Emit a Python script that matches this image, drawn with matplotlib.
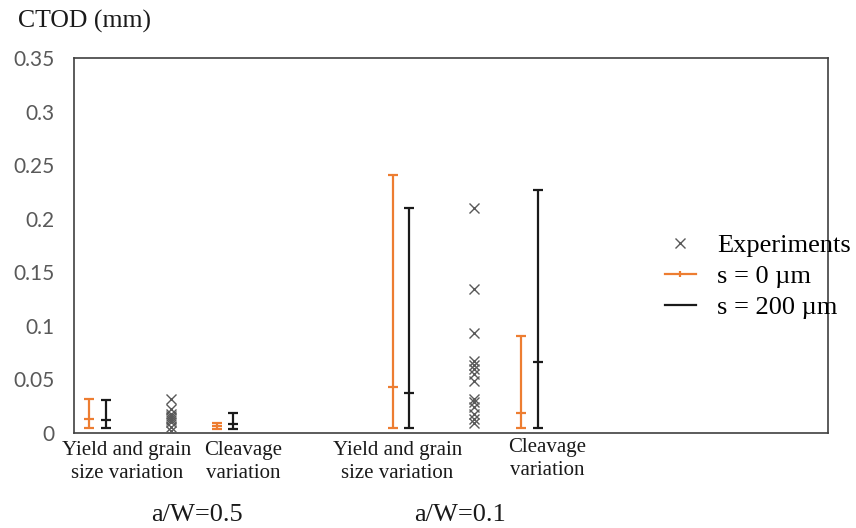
import numpy as np
import matplotlib.pyplot as plt
from matplotlib.lines import Line2D

# error bar data: (min, middle, max) CTOD in mm
s0_lo = [0.0044, 0.0037, 0.0044, 0.0044]
s0_mid = [0.0128, 0.0065, 0.0432, 0.019]
s0_hi = [0.0317, 0.0096, 0.241, 0.0905]

s200_lo = [0.0044, 0.0034, 0.0044, 0.0044]
s200_mid = [0.012, 0.008, 0.0376, 0.0663]
s200_hi = [0.031, 0.019, 0.2097, 0.2268]

exp_05 = [0.032, 0.022, 0.018, 0.016, 0.014, 0.012, 0.010, 0.006, 0.002]
exp_01 = [0.210, 0.134, 0.093, 0.067, 0.0635, 0.060, 0.055, 0.049,
          0.032, 0.0286, 0.0246, 0.018, 0.013, 0.009]

cat_labels = ["Yield and grain\nsize variation", "Cleavage\nvariation",
              "Yield and grain\nsize variation", "Cleavage\nvariation"]
group_labels = ["a/W=0.5", "a/W=0.1"]

# layout (axes fraction along x)
x_s0 = [0.0205, 0.190, 0.423, 0.593]
x_s200 = [0.043, 0.211, 0.444, 0.615]
x_exp = [0.1285, 0.531]
x_cat = [0.070, 0.224, 0.429, 0.628]
y_cat = [-0.021, -0.021, -0.021, -0.013]
x_grp = [0.163, 0.512]

orange = '#ED7D31'
black = '#1a1a1a'
gray = '#595959'
serif = 'Liberation Serif'

fig = plt.figure(figsize=(8.56, 5.28), dpi=100)
ax = fig.add_axes([74 / 856, 95 / 528, 754 / 856, 375 / 528])


def draw_bars(xs, lo, mid, hi, color):
    lo = np.array(lo)
    mid = np.array(mid)
    hi = np.array(hi)
    ax.errorbar(xs, mid, yerr=[mid - lo, hi - mid], fmt='none', ecolor=color,
                elinewidth=1.6, capsize=3.3, capthick=1.6, zorder=3)
    ax.plot(xs, mid, linestyle='none', marker='_', ms=6.6, mew=1.6,
            color=color, zorder=3)


draw_bars(x_s0, s0_lo, s0_mid, s0_hi, orange)
draw_bars(x_s200, s200_lo, s200_mid, s200_hi, black)

ax.plot([x_exp[0]] * len(exp_05), exp_05, linestyle='none', marker='x',
        ms=7, mew=1.0, color=gray, zorder=4)
ax.plot([x_exp[1]] * len(exp_01), exp_01, linestyle='none', marker='x',
        ms=7, mew=1.0, color=gray, zorder=4)

ax.set_xlim(0, 1)
ax.set_ylim(0, 0.35)
ax.set_yticks(np.arange(0, 0.351, 0.05))
ax.set_yticklabels(['0', '0.05', '0.1', '0.15', '0.2', '0.25', '0.3', '0.35'])
ax.set_xticks([])
ax.tick_params(axis='y', length=0, pad=14, labelsize=15, labelcolor=gray)
for lab in ax.get_yticklabels():
    lab.set_fontfamily('Lato')
for sp in ax.spines.values():
    sp.set_color('#404040')
    sp.set_linewidth(1.2)

for x, y, t in zip(x_cat, y_cat, cat_labels):
    ax.text(x, y, t, transform=ax.transAxes, ha='center', va='top',
            fontsize=15, family=serif, color='#1a1a1a', linespacing=1.3)
for x, t in zip(x_grp, group_labels):
    ax.text(x, -0.219, t, transform=ax.transAxes, ha='center', va='center',
            fontsize=19, family=serif, color='#1a1a1a')

fig.text(18 / 856, 1 - 21 / 528, "CTOD (mm)", ha='left', va='center',
         fontsize=18.5, family=serif, color='#1a1a1a')

handles = [
    Line2D([], [], linestyle='none', marker='x', ms=7, mew=1.0, color=gray),
    Line2D([], [], color=orange, lw=1.6, marker='|', ms=4, mew=1.6),
    Line2D([], [], color=black, lw=1.6),
]
fig.legend(handles, ["Experiments", "s = 0 µm", "s = 200 µm"],
           loc='upper left', bbox_to_anchor=(654 / 856, 1 - 223 / 528),
           frameon=False, prop={'family': serif, 'size': 19},
           handlelength=1.2, labelspacing=0.29, handletextpad=0.8,
           borderaxespad=0)

plt.savefig('out.png', dpi=100)
plt.close()
